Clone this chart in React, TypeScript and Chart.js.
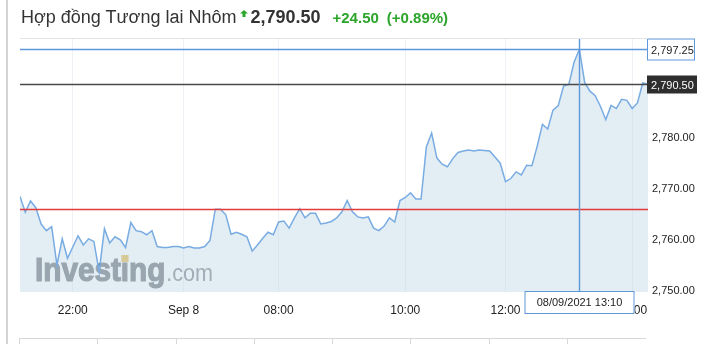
import React, { useEffect, useRef } from "react";
import { Chart, registerables } from "chart.js";

Chart.register(...registerables);

const prices: number[] = [
  2768.5, 2765.4, 2767.6, 2766.3, 2763.1, 2761.8, 2762.6, 2755.1, 2760.2, 2756.4,
  2758.6, 2760.8, 2759.0, 2760.2, 2759.7, 2753.8, 2762.2, 2759.4, 2760.6, 2760.0,
  2758.5, 2763.4, 2761.8, 2761.6, 2761.0, 2761.8, 2758.7, 2758.5, 2758.5, 2758.7,
  2758.7, 2758.4, 2758.7, 2758.4, 2758.4, 2758.7, 2759.9, 2766.0, 2766.0, 2764.9,
  2761.1, 2761.5, 2761.1, 2760.6, 2757.8, 2759.0, 2760.3, 2761.5, 2761.0, 2763.5,
  2763.7, 2762.3, 2764.3, 2766.1, 2764.3, 2765.2, 2765.2, 2763.1, 2763.3, 2763.6,
  2764.3, 2765.5, 2767.7, 2765.5, 2764.5, 2764.3, 2764.5, 2762.3, 2761.8, 2762.7,
  2764.3, 2763.5, 2767.7, 2768.3, 2769.2, 2768.0, 2768.0, 2778.2, 2780.9, 2776.0,
  2774.8, 2774.3, 2775.9, 2777.1, 2777.4, 2777.6, 2777.4, 2777.6, 2777.5, 2777.4,
  2776.2, 2775.0, 2771.4, 2772.0, 2773.3, 2772.7, 2774.6, 2774.5, 2778.3, 2782.6,
  2781.7, 2785.4, 2786.3, 2790.1, 2790.4, 2794.8, 2797.25, 2790.8, 2789.1, 2788.2,
  2786.1, 2783.5, 2786.3, 2785.7, 2787.5, 2787.3, 2785.7, 2786.8, 2790.7, 2790.5,
];

const xTickPositions: number[] = [10, 31, 49, 73, 92, 116];
const xTickLabels: string[] = ["22:00", "Sep 8", "08:00", "10:00", "12:00", "14:00"];
const yTickValues: number[] = [2750, 2760, 2770, 2780, 2790];

const lastPrice = 2790.5;
const prevClose = 2766.0;
const hoverIndex = 106;
const hoverValue = 2797.25;
const hoverDateLabel = "08/09/2021 13:10";

const FONT = "'Liberation Sans', Arial, sans-serif";
const CROSS = "#5e97da";

function fmt(v: number): string {
  return v.toLocaleString("en-US", { minimumFractionDigits: 2, maximumFractionDigits: 2 });
}

const overlayPlugin = {
  id: "overlay",
  beforeDatasetsDraw(chart: any) {
    const { ctx, chartArea } = chart;
    ctx.save();
    ctx.beginPath();
    ctx.rect(chartArea.left, chartArea.top, chartArea.right - chartArea.left, chartArea.bottom - chartArea.top);
    ctx.clip();
    const x0 = chartArea.left + 15;
    const base = 281;
    ctx.textBaseline = "alphabetic";
    ctx.save();
    ctx.translate(x0, base);
    ctx.scale(0.9, 1);
    ctx.font = `bold 33px ${FONT}`;
    ctx.fillStyle = "#6b6f74";
    ctx.strokeStyle = "#6b6f74";
    ctx.lineWidth = 1.2;
    ctx.fillText("Investing", 0, 0);
    ctx.strokeText("Investing", 0, 0);
    const w1 = ctx.measureText("Investing").width;
    const wBefore = ctx.measureText("Invest").width;
    const wi = ctx.measureText("i").width;
    ctx.fillStyle = "#e6b445";
    ctx.fillRect(wBefore + wi / 2 - 4, -26, 8, 7);
    ctx.fillStyle = "#7a7e83";
    ctx.font = `24px ${FONT}`;
    ctx.fillText(".com", w1 + 1, 0);
    ctx.restore();
    ctx.restore();
  },
  afterDraw(chart: any) {
    const { ctx, chartArea, scales } = chart;
    const xs = scales.x;
    const ys = scales.y;
    const L = chartArea.left;
    const R = chartArea.right;
    ctx.save();
    const yRed = Math.round(ys.getPixelForValue(prevClose)) + 0.5;
    ctx.strokeStyle = "#e23b3b";
    ctx.lineWidth = 1.3;
    ctx.beginPath();
    ctx.moveTo(L, yRed);
    ctx.lineTo(R, yRed);
    ctx.stroke();
    const yLast = Math.round(ys.getPixelForValue(lastPrice)) + 0.5;
    ctx.strokeStyle = "#4a4a4a";
    ctx.lineWidth = 1.5;
    ctx.beginPath();
    ctx.moveTo(L, yLast);
    ctx.lineTo(R, yLast);
    ctx.stroke();
    const hx = Math.round(xs.getPixelForValue(hoverIndex)) + 0.5;
    const hy = Math.round(ys.getPixelForValue(hoverValue)) + 0.5;
    ctx.strokeStyle = CROSS;
    ctx.lineWidth = 1.4;
    ctx.beginPath();
    ctx.moveTo(L, hy);
    ctx.lineTo(R, hy);
    ctx.moveTo(hx, chartArea.top);
    ctx.lineTo(hx, chartArea.bottom);
    ctx.stroke();
    ctx.lineWidth = 1;
    ctx.font = `11px ${FONT}`;
    ctx.textBaseline = "middle";
    ctx.textAlign = "left";
    ctx.fillStyle = "#ffffff";
    ctx.fillRect(R - 1, hy - 11, 48, 22);
    ctx.strokeStyle = CROSS;
    ctx.strokeRect(R - 0.5, hy - 10.5, 47, 21);
    ctx.fillStyle = "#222";
    ctx.fillText(fmt(hoverValue), R + 3, hy + 1);
    ctx.fillStyle = "#2e2e2e";
    ctx.fillRect(R - 1, yLast - 9, 50, 18);
    ctx.fillStyle = "#ffffff";
    ctx.fillText(fmt(lastPrice), R + 3, yLast + 1);
    ctx.fillStyle = "#ffffff";
    ctx.fillRect(hx - 55, chartArea.bottom - 1, 110, 23);
    ctx.strokeStyle = CROSS;
    ctx.strokeRect(hx - 55 + 0.5, chartArea.bottom - 0.5, 109, 22);
    ctx.fillStyle = "#222";
    ctx.textAlign = "center";
    ctx.fillText(hoverDateLabel, hx, chartArea.bottom + 11);
    ctx.strokeStyle = "#e4e4e4";
    ctx.lineWidth = 1;
    ctx.beginPath();
    ctx.moveTo(L, chartArea.top + 0.5);
    ctx.lineTo(R, chartArea.top + 0.5);
    ctx.stroke();
    ctx.restore();
  },
};

export default function App() {
  const ref = useRef<HTMLCanvasElement | null>(null);

  useEffect(() => {
    if (!ref.current) return;
    const chart = new Chart(ref.current, {
      type: "line",
      data: {
        datasets: [
          {
            data: prices.map((v, i) => ({ x: i, y: v })),
            borderColor: "#78ace2",
            borderWidth: 1.5,
            backgroundColor: "rgba(200,219,234,0.5)",
            fill: "start",
            pointRadius: 0,
            tension: 0,
          },
        ],
      },
      options: {
        animation: false,
        responsive: false,
        maintainAspectRatio: false,
        events: [],
        layout: { padding: { left: 20, top: 38, right: 0, bottom: 0 } },
        plugins: { legend: { display: false }, tooltip: { enabled: false } },
        scales: {
          x: {
            type: "linear",
            min: 0,
            max: prices.length - 1,
            afterBuildTicks(scale: any) {
              scale.ticks = xTickPositions.map((v) => ({ value: v }));
            },
            afterFit(scale: any) {
              scale.height = 52;
            },
            ticks: {
              autoSkip: false,
              maxRotation: 0,
              padding: 11,
              color: "#222",
              font: { family: FONT, size: 12 },
              callback: (v: any) => {
                const k = xTickPositions.indexOf(Number(v));
                return k >= 0 ? xTickLabels[k] : "";
              },
            },
            grid: { color: "#edf1f5", drawTicks: false },
            border: { display: false },
          },
          y: {
            position: "right",
            min: 2749.8,
            max: 2799.5,
            afterBuildTicks(scale: any) {
              scale.ticks = yTickValues.map((v) => ({ value: v }));
            },
            afterFit(scale: any) {
              scale.width = 70;
            },
            ticks: {
              padding: 4,
              color: "#222",
              font: { family: FONT, size: 11 },
              callback: (v: any) => fmt(Number(v)),
            },
            grid: { display: false, drawTicks: false },
            border: { display: false },
          },
        },
      },
      plugins: [overlayPlugin],
    });
    return () => chart.destroy();
  }, []);

  const cells = [0, 1, 2, 3, 4, 5, 6, 7];

  return (
    <div style={{ position: "absolute", left: 0, top: 0, width: 718, height: 344, background: "#fff", overflow: "hidden", fontFamily: FONT }}>
      <canvas ref={ref} width={718} height={344} style={{ position: "absolute", left: 0, top: 0, width: 718, height: 344 }} />
      <div style={{ position: "absolute", left: 6, top: 0, width: 2, height: 344, background: "#d4d4d4" }} />
      <div style={{ position: "absolute", left: 21, top: 7, whiteSpace: "nowrap", display: "flex", alignItems: "baseline" }}>
        <span style={{ fontSize: 18, color: "#333" }}>Hợp đồng Tương lai Nhôm</span>
        <span style={{ display: "inline-block", width: 14, position: "relative", height: 10 }}>
          <svg width="8" height="7" style={{ position: "absolute", left: 4, top: -3 }} viewBox="0 0 8 7">
            <polygon points="4,0 8,3.5 5.5,3.5 5.5,7 2.5,7 2.5,3.5 0,3.5" fill="#2aa52a" />
          </svg>
        </span>
        <span style={{ fontSize: 18, fontWeight: "bold", color: "#333" }}>2,790.50</span>
        <span style={{ fontSize: 15, fontWeight: "bold", color: "#2aa52a", marginLeft: 12 }}>+24.50</span>
        <span style={{ fontSize: 15, fontWeight: "bold", color: "#2aa52a", marginLeft: 8 }}>(+0.89%)</span>
      </div>
      {cells.map((c) => (
        <div key={c} style={{ position: "absolute", left: 19 + c * 78.25, top: 338, width: 78, height: 10, borderTop: "1px solid #d8d8d8", borderLeft: "1px solid #d8d8d8" }} />
      ))}
    </div>
  );
}
